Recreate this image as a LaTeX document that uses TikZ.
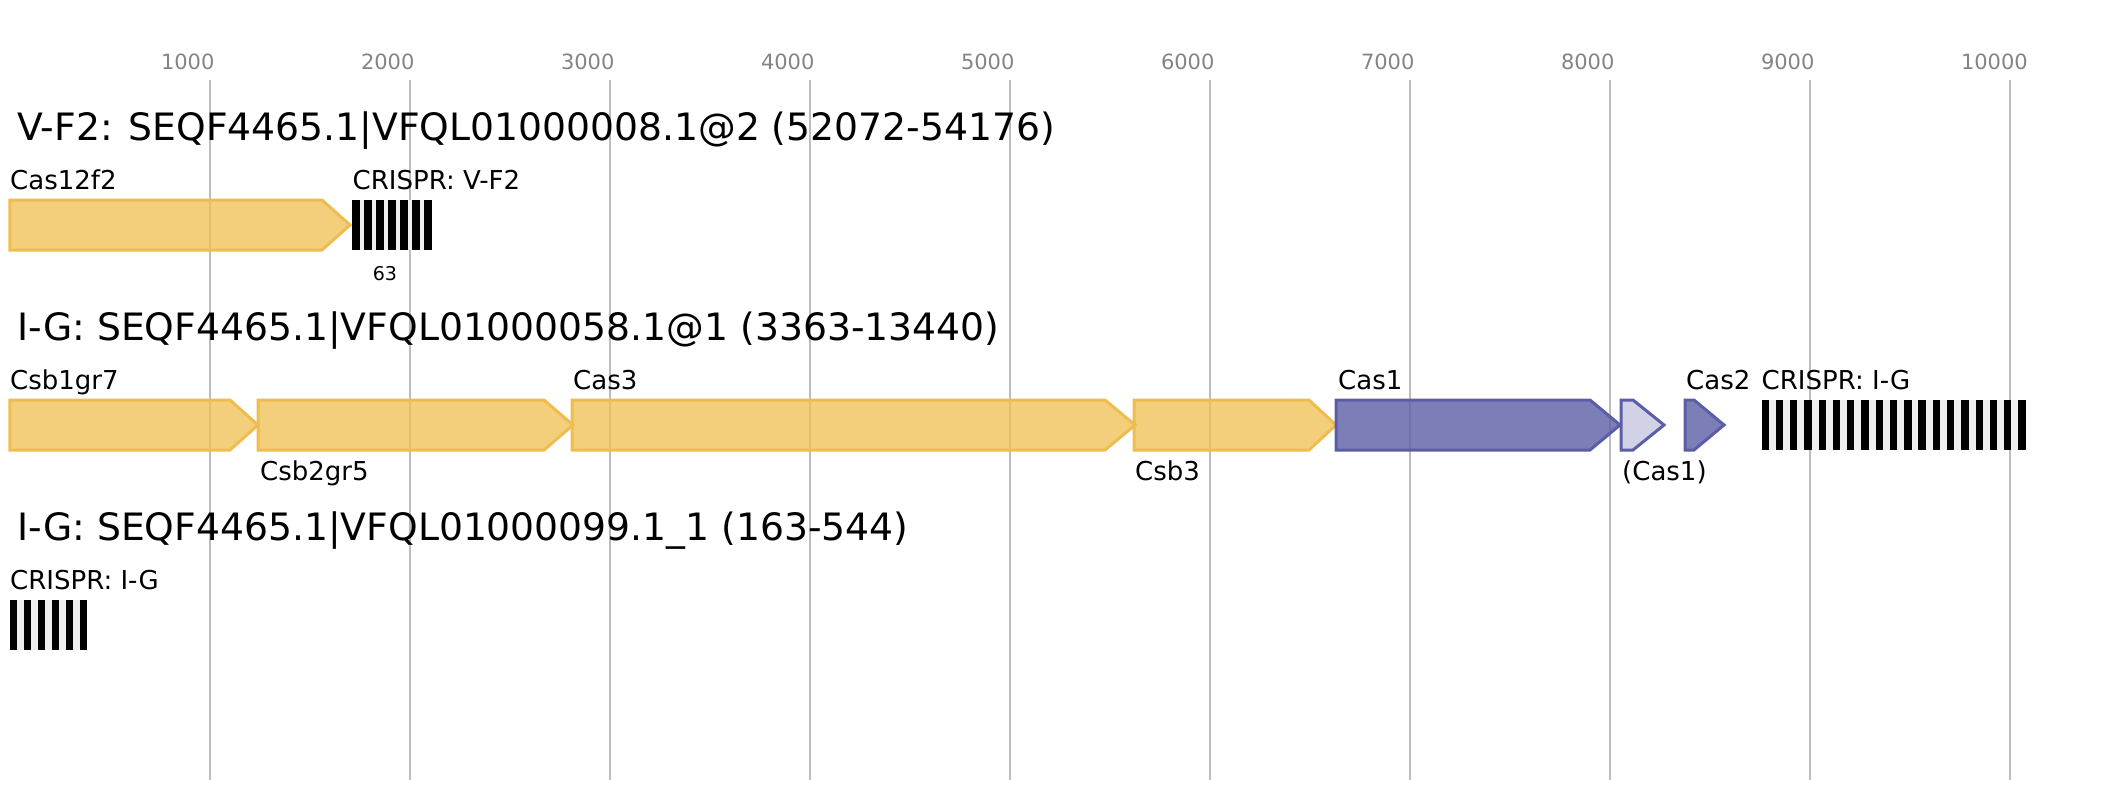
\documentclass[tikz,border=0pt]{standalone}
\usepackage{fontspec}
\setmainfont{DejaVu Sans}
\usepackage{tikz}

\definecolor{casyellow}{HTML}{EFBD4F}
\definecolor{casblue}{HTML}{5B5EA6}
\definecolor{gridgrey}{HTML}{BDBDBD}
\definecolor{tickgrey}{HTML}{848484}
\definecolor{spacergrey}{HTML}{EEEEEE}

\tikzset{
  gridline/.style={gridgrey, line width=2pt},
  ticklabel/.style={tickgrey, anchor=base west, inner sep=0pt, font=\fontsize{21}{25}\selectfont},
  locustitle/.style={anchor=base west, inner sep=0pt, font=\fontsize{37.7}{45}\selectfont},
  genelabel/.style={anchor=base west, inner sep=0pt, font=\fontsize{26}{31}\selectfont},
  countlabel/.style={anchor=base, inner sep=0pt, font=\fontsize{19}{23}\selectfont},
  yellowgene/.style={draw=casyellow, fill=casyellow, fill opacity=0.75, line width=3pt},
  bluegene/.style={draw=casblue, fill=casblue, fill opacity=0.8, line width=3pt},
  palegene/.style={draw=casblue, fill=casblue, fill opacity=0.28, line width=3pt}
}

% gene arrow: style, start, shoulder, tip, top of row
\newcommand{\casgene}[5]{
  \draw[#1] (#2,#5) -- (#3,#5) -- (#4,#5+25) -- (#3,#5+50) -- (#2,#5+50) -- cycle;
}
% crispr array: start, end, top of row, repeats, pitch
\newcommand{\crisprarray}[5]{
  \fill[spacergrey] (#1,#3) rectangle (#2,#3+50);
  \foreach \r in {1,...,#4}
    \fill[black] ({#1+(\r-1)*#5},#3) rectangle ({#1+(\r-1)*#5+7.3},#3+50);
}

\begin{document}
\begin{tikzpicture}[x=1pt,y=-1pt]
  \useasboundingbox (0,0) rectangle (2115,800);

  % scale
  \foreach \k in {1,...,10}{
    \draw[gridline] ({9.8+200*\k},80) -- ({9.8+200*\k},780);
    \node[ticklabel] (tick\k) at ({9.8+200*\k-49},70) {\k000};
  }

  % V-F2 locus
  \node[locustitle] (titleVF) at (17,140) {V-F2: SEQF4465.1|VFQL01000008.1@2 (52072-54176)};
  \casgene{yellowgene}{9.8}{322}{350}{200}
  \crisprarray{352.3}{431}{200}{7}{12}
  \node[genelabel] (cas12f2) at (10,189) {Cas12f2};
  \node[genelabel] (crisprVF) at (352.5,189) {CRISPR: V-F2};
  \node[countlabel] (spacers) at (385,280) {63};

  % I-G locus
  \node[locustitle] (titleIG) at (17,340) {I-G: SEQF4465.1|VFQL01000058.1@1 (3363-13440)};
  \casgene{yellowgene}{9.8}{230}{258}{400}
  \casgene{yellowgene}{258}{544}{573}{400}
  \casgene{yellowgene}{572}{1105}{1135}{400}
  \casgene{yellowgene}{1134}{1309}{1336}{400}
  \casgene{bluegene}{1336}{1590}{1620}{400}
  \casgene{palegene}{1621}{1633}{1664}{400}
  \casgene{bluegene}{1685}{1694}{1724}{400}
  \crisprarray{1761.5}{2026}{400}{19}{14.27}
  \node[genelabel] (csb1) at (10,389) {Csb1gr7};
  \node[genelabel] (csb2) at (260,480) {Csb2gr5};
  \node[genelabel] (cas3) at (573,389) {Cas3};
  \node[genelabel] (csb3) at (1135,480) {Csb3};
  \node[genelabel] (cas1) at (1338,389) {Cas1};
  \node[genelabel] (cas1b) at (1622,480) {(Cas1)};
  \node[genelabel] (cas2) at (1686,389) {Cas2};
  \node[genelabel] (crisprIG) at (1761.5,389) {CRISPR: I-G};

  % I-G second locus
  \node[locustitle] (titleIGb) at (17,540) {I-G: SEQF4465.1|VFQL01000099.1\_1 (163-544)};
  \crisprarray{10}{86.7}{600}{6}{13.94}
  \node[genelabel] (crisprIGb) at (10,589) {CRISPR: I-G};
\end{tikzpicture}
\end{document}
